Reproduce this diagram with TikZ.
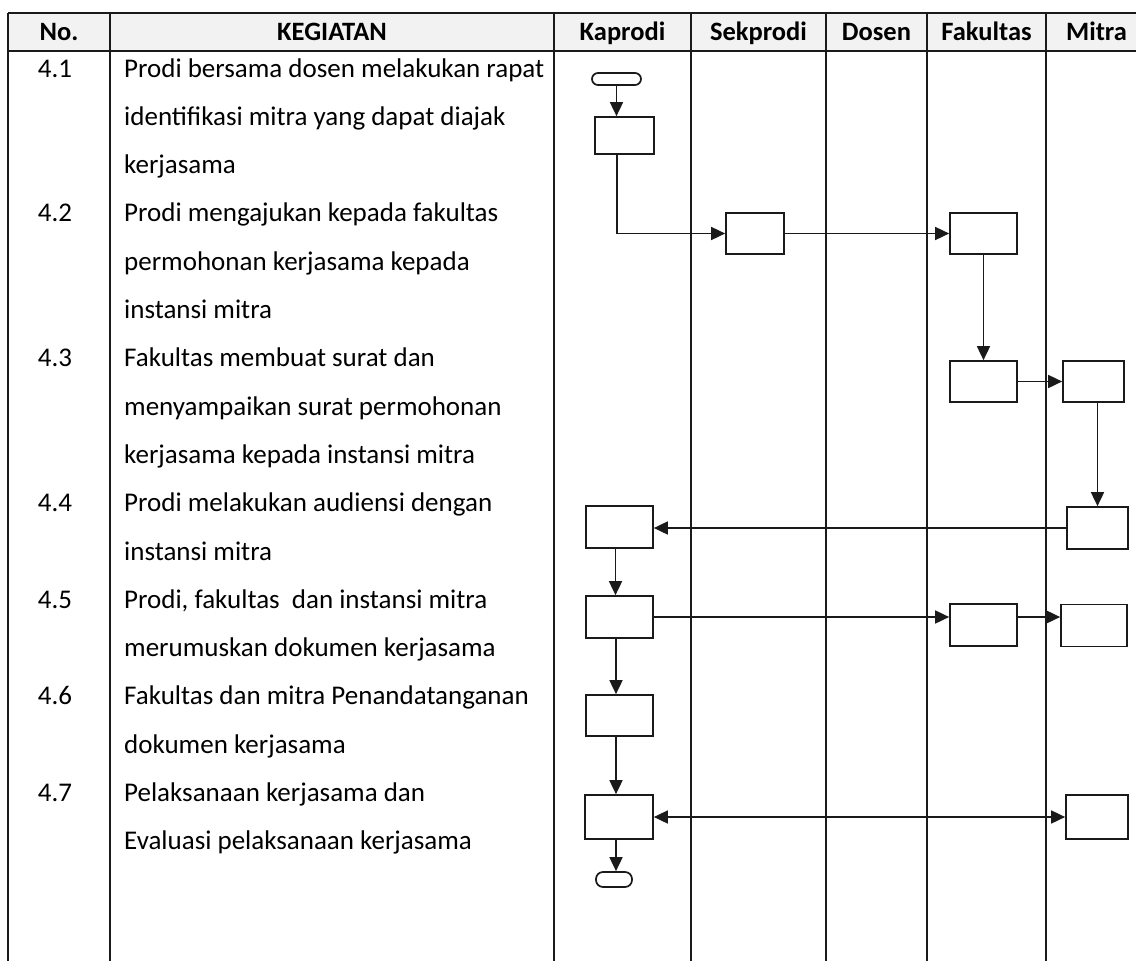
\documentclass[tikz,border=0pt]{standalone}
\usepackage{fontspec}
\setmainfont{Carlito}
\usetikzlibrary{arrows.meta}
\definecolor{hdr}{HTML}{F2F2F2}
\definecolor{ink}{HTML}{1A1A1A}
\begin{document}
\begin{tikzpicture}[x=1pt,y=-1pt,
  grid/.style={draw=ink, line width=1.7pt},
  box/.style={draw=ink, rectangle, inner sep=0pt, line width=1.7pt, fill=white},
  term/.style={draw=ink, rectangle, inner sep=0pt, line width=1.7pt, fill=white},
  txt/.style={inner sep=0pt, font=\fontsize{27}{30}\selectfont, text=black},
  hd/.style={inner sep=0pt, font=\fontsize{26.5}{30}\selectfont\bfseries, text=black, anchor=base},
  arr/.style={draw=ink, line width=1.7pt, -{Triangle[length=14pt,width=13pt]}},
  arrtwo/.style={draw=ink, line width=1.7pt, {Triangle[length=14pt,width=13pt]}-{Triangle[length=14pt,width=13pt]}}
]
\useasboundingbox (0,0) rectangle (1136,961);
% header background
\fill[hdr] (8,13) rectangle (1136,51);
% table lines
\draw[grid] (8,13) -- (1136,13);
\draw[grid] (8,51) -- (1136,51);
\foreach \xx in {8,110,554,691,826,927,1046}{
  \draw[grid] (\xx,13) -- (\xx,961);
}
% header texts
\node[hd] (hNo) at (59,40.5) {No.};
\node[hd] (hKeg) at (332,40.5) {KEGIATAN};
\node[hd] (hKap) at (622.5,40.5) {Kaprodi};
\node[hd] (hSek) at (758.5,40.5) {Sekprodi};
\node[hd] (hDos) at (876.5,40.5) {Dosen};
\node[hd] (hFak) at (986.5,40.5) {Fakultas};
\node[hd] (hMit) at (1096.5,40.5) {Mitra};
% numbers
\node[txt, anchor=base] (n1) at (55,77) {4.1};
\node[txt, anchor=base] (n2) at (55,221.9) {4.2};
\node[txt, anchor=base] (n3) at (55,366.8) {4.3};
\node[txt, anchor=base] (n4) at (55,511.7) {4.4};
\node[txt, anchor=base] (n5) at (55,608.3) {4.5};
\node[txt, anchor=base] (n6) at (55,704.9) {4.6};
\node[txt, anchor=base] (n7) at (55,801.5) {4.7};
% activity texts
\node[txt, anchor=base west] (t0) at (124,77) {Prodi bersama dosen melakukan rapat};
\node[txt, anchor=base west] (t1) at (124,125.3) {identifikasi mitra yang dapat diajak};
\node[txt, anchor=base west] (t2) at (124,173.6) {kerjasama};
\node[txt, anchor=base west] (t3) at (124,221.9) {Prodi mengajukan kepada fakultas};
\node[txt, anchor=base west] (t4) at (124,270.2) {permohonan kerjasama kepada};
\node[txt, anchor=base west] (t5) at (124,318.5) {instansi mitra};
\node[txt, anchor=base west] (t6) at (124,366.8) {Fakultas membuat surat dan};
\node[txt, anchor=base west] (t7) at (124,415.1) {menyampaikan surat permohonan};
\node[txt, anchor=base west] (t8) at (124,463.4) {kerjasama kepada instansi mitra};
\node[txt, anchor=base west] (t9) at (124,511.7) {Prodi melakukan audiensi dengan};
\node[txt, anchor=base west] (t10) at (124,560.0) {instansi mitra};
\node[txt, anchor=base west] (t11) at (124,608.3) {Prodi, fakultas\ \ dan instansi mitra};
\node[txt, anchor=base west] (t12) at (124,656.6) {merumuskan dokumen kerjasama};
\node[txt, anchor=base west] (t13) at (124,704.9) {Fakultas dan mitra Penandatanganan};
\node[txt, anchor=base west] (t14) at (124,753.2) {dokumen kerjasama};
\node[txt, anchor=base west] (t15) at (124,801.5) {Pelaksanaan kerjasama dan};
\node[txt, anchor=base west] (t16) at (124,849.8) {Evaluasi pelaksanaan kerjasama};
% flow shapes
\node[term, rounded corners=6pt, minimum width=49pt, minimum height=12pt] (st) at (616.5,79) {};
\node[box, minimum width=59pt, minimum height=37pt] (b1) at (624.5,135.5) {};
\node[box, minimum width=58pt, minimum height=41pt] (b2) at (755,233.5) {};
\node[box, minimum width=67pt, minimum height=41pt] (b3) at (983.5,233.5) {};
\node[box, minimum width=67pt, minimum height=41pt] (b4) at (983.5,381.5) {};
\node[box, minimum width=61pt, minimum height=41pt] (b5) at (1093.5,381.5) {};
\node[box, minimum width=61pt, minimum height=42pt] (b6) at (1097.5,528) {};
\node[box, minimum width=67pt, minimum height=42pt] (b7) at (619.5,527) {};
\node[box, minimum width=67pt, minimum height=42pt] (b8) at (619.5,617) {};
\node[box, minimum width=67pt, minimum height=42pt] (b9) at (983.5,625) {};
\node[box, minimum width=66pt, minimum height=42pt] (b10) at (1094,625.5) {};
\node[box, minimum width=67pt, minimum height=41pt] (b11) at (619.5,715.5) {};
\node[box, minimum width=62pt, minimum height=44pt] (b12) at (1097,817) {};
\node[box, minimum width=68pt, minimum height=44pt] (b13) at (619,817) {};
\node[term, rounded corners=7pt, minimum width=36pt, minimum height=15pt] (en) at (614,879.5) {};
% connectors
\draw[arr] (st.south) -- (st.south |- b1.north);
\draw[arr] ([xshift=-7.5pt]b1.south) |- (b2.west);
\draw[arr] (b2.east) -- (b3.west);
\draw[arr] (b3.south) -- (b4.north);
\draw[arr] (b4.east) -- (b5.west);
\draw[arr] (b6.north |- b5.south) -- (b6.north);
\draw[arr] (b6.west) -- (b6.west -| b7.east);
\draw[arr] ([xshift=-4pt]b7.south) -- ([xshift=-4pt]b8.north);
\draw[arr] (b8.east) -- (b8.east -| b9.west);
\draw[arr] (b8.east -| b9.east) -- (b8.east -| b10.west);
\draw[arr] ([xshift=-3.5pt]b8.south) -- ([xshift=-3.5pt]b11.north);
\draw[arr] ([xshift=-3.5pt]b11.south) -- ([xshift=-3pt]b13.north);
\draw[arrtwo] (b13.east) -- (b12.west);
\draw[arr] ([xshift=-3pt]b13.south) -- ([xshift=-3pt]b13.south |- en.north);
\end{tikzpicture}
\end{document}
